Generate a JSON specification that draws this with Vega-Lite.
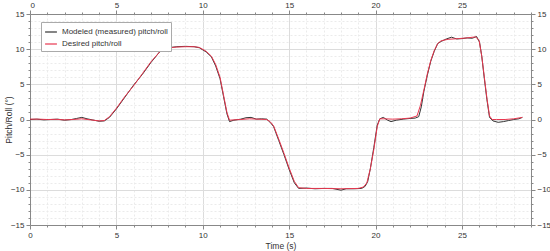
{
  "$schema": "https://vega.github.io/schema/vega-lite/v6.json",
  "autosize": {"type": "none"},
  "padding": {"left": 30, "top": 14, "right": 19, "bottom": 26},
  "width": 501,
  "height": 211,
  "background": "white",
  "config": {
    "view": {"stroke": null},
    "font": "Liberation Sans",
    "axis": {"labelFont": "Liberation Sans", "titleFont": "Liberation Sans", "labelColor": "#333", "titleColor": "#333", "labelFontSize": 8, "titleFontSize": 8.5, "titleFontWeight": "normal", "domainColor": "#888", "tickColor": "#888"}
  },
  "datasets": {
    "pts": [
      {"t": 0, "v": 0.0, "s": "Modeled (measured) pitch/roll"},
      {"t": 0.4, "v": 0.05, "s": "Modeled (measured) pitch/roll"},
      {"t": 0.8, "v": -0.05, "s": "Modeled (measured) pitch/roll"},
      {"t": 1.2, "v": 0.0, "s": "Modeled (measured) pitch/roll"},
      {"t": 1.6, "v": 0.05, "s": "Modeled (measured) pitch/roll"},
      {"t": 2.0, "v": -0.1, "s": "Modeled (measured) pitch/roll"},
      {"t": 2.4, "v": 0.0, "s": "Modeled (measured) pitch/roll"},
      {"t": 2.7, "v": 0.15, "s": "Modeled (measured) pitch/roll"},
      {"t": 3.0, "v": 0.3, "s": "Modeled (measured) pitch/roll"},
      {"t": 3.3, "v": 0.1, "s": "Modeled (measured) pitch/roll"},
      {"t": 3.6, "v": -0.05, "s": "Modeled (measured) pitch/roll"},
      {"t": 4.0, "v": -0.25, "s": "Modeled (measured) pitch/roll"},
      {"t": 4.3, "v": -0.2, "s": "Modeled (measured) pitch/roll"},
      {"t": 4.6, "v": 0.3, "s": "Modeled (measured) pitch/roll"},
      {"t": 5.0, "v": 1.5, "s": "Modeled (measured) pitch/roll"},
      {"t": 5.5, "v": 3.2, "s": "Modeled (measured) pitch/roll"},
      {"t": 6.0, "v": 4.9, "s": "Modeled (measured) pitch/roll"},
      {"t": 6.5, "v": 6.4, "s": "Modeled (measured) pitch/roll"},
      {"t": 7.0, "v": 8.1, "s": "Modeled (measured) pitch/roll"},
      {"t": 7.5, "v": 9.6, "s": "Modeled (measured) pitch/roll"},
      {"t": 8.0, "v": 10.2, "s": "Modeled (measured) pitch/roll"},
      {"t": 8.5, "v": 10.35, "s": "Modeled (measured) pitch/roll"},
      {"t": 9.0, "v": 10.4, "s": "Modeled (measured) pitch/roll"},
      {"t": 9.5, "v": 10.35, "s": "Modeled (measured) pitch/roll"},
      {"t": 9.8, "v": 10.2, "s": "Modeled (measured) pitch/roll"},
      {"t": 10.2, "v": 9.6, "s": "Modeled (measured) pitch/roll"},
      {"t": 10.5, "v": 8.9, "s": "Modeled (measured) pitch/roll"},
      {"t": 10.75, "v": 7.6, "s": "Modeled (measured) pitch/roll"},
      {"t": 11.0, "v": 5.8, "s": "Modeled (measured) pitch/roll"},
      {"t": 11.2, "v": 3.3, "s": "Modeled (measured) pitch/roll"},
      {"t": 11.4, "v": 0.8, "s": "Modeled (measured) pitch/roll"},
      {"t": 11.55, "v": -0.3, "s": "Modeled (measured) pitch/roll"},
      {"t": 11.8, "v": -0.1, "s": "Modeled (measured) pitch/roll"},
      {"t": 12.2, "v": 0.05, "s": "Modeled (measured) pitch/roll"},
      {"t": 12.5, "v": 0.25, "s": "Modeled (measured) pitch/roll"},
      {"t": 12.8, "v": 0.3, "s": "Modeled (measured) pitch/roll"},
      {"t": 13.1, "v": 0.05, "s": "Modeled (measured) pitch/roll"},
      {"t": 13.4, "v": 0.1, "s": "Modeled (measured) pitch/roll"},
      {"t": 13.7, "v": 0.05, "s": "Modeled (measured) pitch/roll"},
      {"t": 13.9, "v": -0.4, "s": "Modeled (measured) pitch/roll"},
      {"t": 14.1, "v": -1.0, "s": "Modeled (measured) pitch/roll"},
      {"t": 14.4, "v": -3.0, "s": "Modeled (measured) pitch/roll"},
      {"t": 14.7, "v": -5.0, "s": "Modeled (measured) pitch/roll"},
      {"t": 15.0, "v": -7.1, "s": "Modeled (measured) pitch/roll"},
      {"t": 15.3, "v": -9.0, "s": "Modeled (measured) pitch/roll"},
      {"t": 15.55, "v": -9.8, "s": "Modeled (measured) pitch/roll"},
      {"t": 16.0, "v": -9.75, "s": "Modeled (measured) pitch/roll"},
      {"t": 16.5, "v": -9.85, "s": "Modeled (measured) pitch/roll"},
      {"t": 17.0, "v": -9.8, "s": "Modeled (measured) pitch/roll"},
      {"t": 17.5, "v": -9.8, "s": "Modeled (measured) pitch/roll"},
      {"t": 18.0, "v": -10.05, "s": "Modeled (measured) pitch/roll"},
      {"t": 18.3, "v": -9.85, "s": "Modeled (measured) pitch/roll"},
      {"t": 18.8, "v": -9.85, "s": "Modeled (measured) pitch/roll"},
      {"t": 19.2, "v": -9.8, "s": "Modeled (measured) pitch/roll"},
      {"t": 19.4, "v": -9.5, "s": "Modeled (measured) pitch/roll"},
      {"t": 19.55, "v": -8.8, "s": "Modeled (measured) pitch/roll"},
      {"t": 19.7, "v": -7.0, "s": "Modeled (measured) pitch/roll"},
      {"t": 19.9, "v": -4.0, "s": "Modeled (measured) pitch/roll"},
      {"t": 20.1, "v": -0.8, "s": "Modeled (measured) pitch/roll"},
      {"t": 20.25, "v": 0.1, "s": "Modeled (measured) pitch/roll"},
      {"t": 20.45, "v": 0.3, "s": "Modeled (measured) pitch/roll"},
      {"t": 20.7, "v": -0.1, "s": "Modeled (measured) pitch/roll"},
      {"t": 20.9, "v": -0.3, "s": "Modeled (measured) pitch/roll"},
      {"t": 21.2, "v": -0.1, "s": "Modeled (measured) pitch/roll"},
      {"t": 21.6, "v": 0.05, "s": "Modeled (measured) pitch/roll"},
      {"t": 22.0, "v": 0.15, "s": "Modeled (measured) pitch/roll"},
      {"t": 22.3, "v": 0.2, "s": "Modeled (measured) pitch/roll"},
      {"t": 22.5, "v": 0.4, "s": "Modeled (measured) pitch/roll"},
      {"t": 22.65, "v": 1.8, "s": "Modeled (measured) pitch/roll"},
      {"t": 22.8, "v": 4.0, "s": "Modeled (measured) pitch/roll"},
      {"t": 23.0, "v": 6.3, "s": "Modeled (measured) pitch/roll"},
      {"t": 23.2, "v": 8.3, "s": "Modeled (measured) pitch/roll"},
      {"t": 23.4, "v": 9.7, "s": "Modeled (measured) pitch/roll"},
      {"t": 23.6, "v": 10.8, "s": "Modeled (measured) pitch/roll"},
      {"t": 23.8, "v": 11.1, "s": "Modeled (measured) pitch/roll"},
      {"t": 24.1, "v": 11.45, "s": "Modeled (measured) pitch/roll"},
      {"t": 24.4, "v": 11.7, "s": "Modeled (measured) pitch/roll"},
      {"t": 24.7, "v": 11.45, "s": "Modeled (measured) pitch/roll"},
      {"t": 25.0, "v": 11.5, "s": "Modeled (measured) pitch/roll"},
      {"t": 25.3, "v": 11.6, "s": "Modeled (measured) pitch/roll"},
      {"t": 25.6, "v": 11.55, "s": "Modeled (measured) pitch/roll"},
      {"t": 25.85, "v": 11.8, "s": "Modeled (measured) pitch/roll"},
      {"t": 26.02, "v": 11.0, "s": "Modeled (measured) pitch/roll"},
      {"t": 26.15, "v": 9.0, "s": "Modeled (measured) pitch/roll"},
      {"t": 26.3, "v": 5.8, "s": "Modeled (measured) pitch/roll"},
      {"t": 26.45, "v": 2.8, "s": "Modeled (measured) pitch/roll"},
      {"t": 26.6, "v": 0.3, "s": "Modeled (measured) pitch/roll"},
      {"t": 26.8, "v": -0.2, "s": "Modeled (measured) pitch/roll"},
      {"t": 27.1, "v": -0.4, "s": "Modeled (measured) pitch/roll"},
      {"t": 27.4, "v": -0.3, "s": "Modeled (measured) pitch/roll"},
      {"t": 27.7, "v": -0.15, "s": "Modeled (measured) pitch/roll"},
      {"t": 28.0, "v": 0.0, "s": "Modeled (measured) pitch/roll"},
      {"t": 28.3, "v": 0.1, "s": "Modeled (measured) pitch/roll"},
      {"t": 28.5, "v": 0.3, "s": "Modeled (measured) pitch/roll"},
      {"t": 0, "v": 0.05, "s": "Desired pitch/roll"},
      {"t": 0.5, "v": 0.05, "s": "Desired pitch/roll"},
      {"t": 1.0, "v": 0.0, "s": "Desired pitch/roll"},
      {"t": 1.5, "v": 0.02, "s": "Desired pitch/roll"},
      {"t": 2.0, "v": -0.05, "s": "Desired pitch/roll"},
      {"t": 2.5, "v": 0.0, "s": "Desired pitch/roll"},
      {"t": 3.0, "v": 0.1, "s": "Desired pitch/roll"},
      {"t": 3.5, "v": -0.05, "s": "Desired pitch/roll"},
      {"t": 4.0, "v": -0.2, "s": "Desired pitch/roll"},
      {"t": 4.3, "v": -0.15, "s": "Desired pitch/roll"},
      {"t": 4.6, "v": 0.4, "s": "Desired pitch/roll"},
      {"t": 5.0, "v": 1.6, "s": "Desired pitch/roll"},
      {"t": 5.5, "v": 3.3, "s": "Desired pitch/roll"},
      {"t": 6.0, "v": 4.8, "s": "Desired pitch/roll"},
      {"t": 6.5, "v": 6.5, "s": "Desired pitch/roll"},
      {"t": 7.0, "v": 8.2, "s": "Desired pitch/roll"},
      {"t": 7.5, "v": 9.6, "s": "Desired pitch/roll"},
      {"t": 8.0, "v": 10.2, "s": "Desired pitch/roll"},
      {"t": 8.5, "v": 10.3, "s": "Desired pitch/roll"},
      {"t": 9.0, "v": 10.35, "s": "Desired pitch/roll"},
      {"t": 9.5, "v": 10.35, "s": "Desired pitch/roll"},
      {"t": 9.8, "v": 10.25, "s": "Desired pitch/roll"},
      {"t": 10.2, "v": 9.7, "s": "Desired pitch/roll"},
      {"t": 10.5, "v": 9.0, "s": "Desired pitch/roll"},
      {"t": 10.75, "v": 7.8, "s": "Desired pitch/roll"},
      {"t": 11.0, "v": 6.0, "s": "Desired pitch/roll"},
      {"t": 11.2, "v": 3.5, "s": "Desired pitch/roll"},
      {"t": 11.4, "v": 1.0, "s": "Desired pitch/roll"},
      {"t": 11.55, "v": -0.1, "s": "Desired pitch/roll"},
      {"t": 11.8, "v": -0.05, "s": "Desired pitch/roll"},
      {"t": 12.2, "v": 0.0, "s": "Desired pitch/roll"},
      {"t": 12.7, "v": 0.1, "s": "Desired pitch/roll"},
      {"t": 13.2, "v": 0.05, "s": "Desired pitch/roll"},
      {"t": 13.7, "v": 0.0, "s": "Desired pitch/roll"},
      {"t": 13.9, "v": -0.3, "s": "Desired pitch/roll"},
      {"t": 14.1, "v": -0.9, "s": "Desired pitch/roll"},
      {"t": 14.4, "v": -2.8, "s": "Desired pitch/roll"},
      {"t": 14.7, "v": -4.8, "s": "Desired pitch/roll"},
      {"t": 15.0, "v": -6.9, "s": "Desired pitch/roll"},
      {"t": 15.3, "v": -8.8, "s": "Desired pitch/roll"},
      {"t": 15.55, "v": -9.7, "s": "Desired pitch/roll"},
      {"t": 16.0, "v": -9.8, "s": "Desired pitch/roll"},
      {"t": 17.0, "v": -9.8, "s": "Desired pitch/roll"},
      {"t": 18.0, "v": -9.85, "s": "Desired pitch/roll"},
      {"t": 19.0, "v": -9.8, "s": "Desired pitch/roll"},
      {"t": 19.3, "v": -9.6, "s": "Desired pitch/roll"},
      {"t": 19.5, "v": -9.0, "s": "Desired pitch/roll"},
      {"t": 19.7, "v": -7.0, "s": "Desired pitch/roll"},
      {"t": 19.9, "v": -4.3, "s": "Desired pitch/roll"},
      {"t": 20.1, "v": -1.0, "s": "Desired pitch/roll"},
      {"t": 20.25, "v": 0.1, "s": "Desired pitch/roll"},
      {"t": 20.5, "v": 0.1, "s": "Desired pitch/roll"},
      {"t": 21.0, "v": 0.05, "s": "Desired pitch/roll"},
      {"t": 21.5, "v": 0.1, "s": "Desired pitch/roll"},
      {"t": 22.0, "v": 0.2, "s": "Desired pitch/roll"},
      {"t": 22.4, "v": 0.5, "s": "Desired pitch/roll"},
      {"t": 22.6, "v": 2.0, "s": "Desired pitch/roll"},
      {"t": 22.8, "v": 4.2, "s": "Desired pitch/roll"},
      {"t": 23.0, "v": 6.5, "s": "Desired pitch/roll"},
      {"t": 23.2, "v": 8.4, "s": "Desired pitch/roll"},
      {"t": 23.4, "v": 9.8, "s": "Desired pitch/roll"},
      {"t": 23.6, "v": 10.8, "s": "Desired pitch/roll"},
      {"t": 23.8, "v": 11.2, "s": "Desired pitch/roll"},
      {"t": 24.2, "v": 11.4, "s": "Desired pitch/roll"},
      {"t": 24.8, "v": 11.5, "s": "Desired pitch/roll"},
      {"t": 25.3, "v": 11.6, "s": "Desired pitch/roll"},
      {"t": 25.8, "v": 11.75, "s": "Desired pitch/roll"},
      {"t": 26.0, "v": 11.2, "s": "Desired pitch/roll"},
      {"t": 26.15, "v": 9.0, "s": "Desired pitch/roll"},
      {"t": 26.3, "v": 6.0, "s": "Desired pitch/roll"},
      {"t": 26.45, "v": 3.0, "s": "Desired pitch/roll"},
      {"t": 26.6, "v": 0.5, "s": "Desired pitch/roll"},
      {"t": 26.75, "v": 0.0, "s": "Desired pitch/roll"},
      {"t": 27.0, "v": 0.0, "s": "Desired pitch/roll"},
      {"t": 27.5, "v": 0.0, "s": "Desired pitch/roll"},
      {"t": 28.0, "v": 0.1, "s": "Desired pitch/roll"},
      {"t": 28.5, "v": 0.3, "s": "Desired pitch/roll"}
    ]
  },
  "data": {"name": "pts"},
  "layer": [
    {
      "mark": {"type": "line", "strokeWidth": 1, "clip": true},
      "encoding": {
        "x": {"field": "t", "type": "quantitative", "scale": {"domain": [0, 29], "nice": false, "zero": false},
          "axis": {"orient": "bottom", "title": "Time (s)", "titlePadding": 2,
            "values": [0,1,2,3,4,5,6,7,8,9,10,11,12,13,14,15,16,17,18,19,20,21,22,23,24,25,26,27,28,29],
            "labelExpr": "datum.value % 5 === 0 ? datum.label : ''",
            "grid": true,
            "gridColor": {"condition": {"test": "datum.value % 5 === 0", "value": "#dcdcdc"}, "value": "#ebebeb"},
            "gridDash": {"condition": {"test": "datum.value % 5 === 0", "value": []}, "value": [2, 2]},
            "tickSize": {"condition": {"test": "datum.value % 5 === 0", "value": 4}, "value": 2},
            "labelPadding": 2, "labelFlush": false}},
        "y": {"field": "v", "type": "quantitative", "scale": {"domain": [-15, 15], "nice": false},
          "axis": {"orient": "left", "title": "Pitch/Roll (°)", "titleX": -22, "titleBaseline": "middle", "titleAnchor": "middle",
            "values": [-15,-14,-13,-12,-11,-10,-9,-8,-7,-6,-5,-4,-3,-2,-1,0,1,2,3,4,5,6,7,8,9,10,11,12,13,14,15],
            "labelExpr": "datum.value % 5 === 0 ? datum.label : ''",
            "grid": true,
            "gridColor": {"condition": {"test": "datum.value % 5 === 0", "value": "#dcdcdc"}, "value": "#ebebeb"},
            "gridDash": {"condition": {"test": "datum.value % 5 === 0", "value": []}, "value": [2, 2]},
            "tickSize": {"condition": {"test": "datum.value % 5 === 0", "value": 4}, "value": 2},
            "labelPadding": 2}},
        "color": {"field": "s", "type": "nominal",
          "scale": {"domain": ["Modeled (measured) pitch/roll", "Desired pitch/roll"], "range": ["#333333", "#e8374f"]},
          "legend": {"title": null, "orient": "none", "legendX": 11, "legendY": 8, "symbolType": "stroke", "symbolSize": 140, "symbolStrokeWidth": 1.2,
            "labelFontSize": 8, "labelFont": "Liberation Sans", "labelColor": "#333", "strokeColor": "#aaa", "fillColor": "white", "padding": 3, "rowPadding": 1, "symbolOffset": 0}},
        "order": {"field": "t", "type": "quantitative"}
      }
    },
    {
      "mark": {"type": "line", "strokeWidth": 0, "opacity": 0},
      "encoding": {
        "x": {"field": "t", "type": "quantitative",
          "axis": {"orient": "top", "title": null, "grid": false,
            "values": [0,1,2,3,4,5,6,7,8,9,10,11,12,13,14,15,16,17,18,19,20,21,22,23,24,25,26,27,28,29],
            "labelExpr": "datum.value % 5 === 0 ? datum.label : ''",
            "tickSize": {"condition": {"test": "datum.value % 5 === 0", "value": 4}, "value": 2},
            "labelPadding": 1}},
        "y": {"field": "v", "type": "quantitative",
          "axis": {"orient": "right", "title": null, "grid": false,
            "values": [-15,-14,-13,-12,-11,-10,-9,-8,-7,-6,-5,-4,-3,-2,-1,0,1,2,3,4,5,6,7,8,9,10,11,12,13,14,15],
            "labelExpr": "datum.value % 5 === 0 ? datum.label : ''",
            "tickSize": {"condition": {"test": "datum.value % 5 === 0", "value": 4}, "value": 2},
            "labelPadding": 2}},
        "detail": {"field": "s", "type": "nominal"}
      }
    }
  ]
}
